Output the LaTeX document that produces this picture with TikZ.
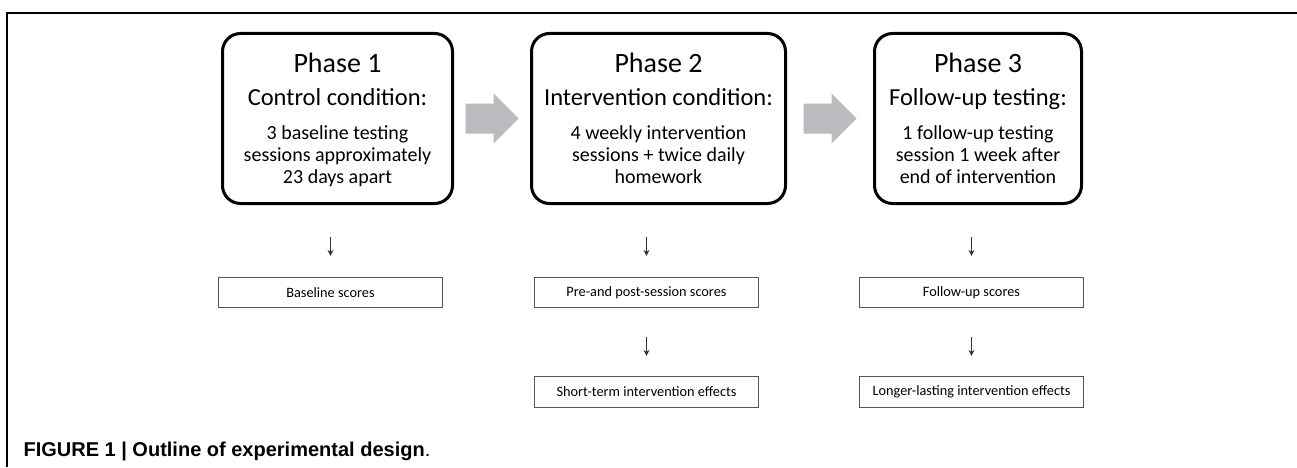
\documentclass[tikz,border=0pt]{standalone}
\usepackage{fontspec}
\setmainfont{Carlito}
\newfontfamily\capfont{Liberation Sans}
\usetikzlibrary{arrows.meta, calc}
\definecolor{arrowgray}{RGB}{187,188,191}
\definecolor{boxgray}{RGB}{85,85,85}
\tikzset{
    phase/.style={draw, line width=3pt, rounded corners=18pt, inner sep=0pt, minimum height=170pt}, % rounded phase boxes
    title/.style={font=\fontsize{28}{30}\selectfont, anchor=base},
    cond/.style={font=\fontsize{24.5}{27}\selectfont, anchor=base},
    body/.style={font=\fontsize{20}{22}\selectfont, align=center, anchor=north, inner sep=0pt},
    score/.style={draw=boxgray, line width=1.2pt, minimum width=224pt, minimum height=30pt, font=\fontsize{14.3}{16}\selectfont}, % result boxes
    down/.style={-{Stealth[length=6pt, width=6pt]}, line width=1pt, draw=black!80}
}
\begin{document}
\begin{tikzpicture}[x=1pt, y=1pt]
    \def\W{1297} \def\H{467}
    \useasboundingbox (0,0) rectangle (\W,\H);
    \draw[line width=2pt] (\W,454) -- (7,454) -- (7,0);

    % phases
    \node[phase, minimum width=230pt] (p1) at (337.5,348.5) {};
    \node[phase, minimum width=254pt] (p2) at (658.5,348.5) {};
    \node[phase, minimum width=207pt] (p3) at (978,348.5) {};

    \node[title] (t1) at ([yshift=-40pt]p1.north) {Phase 1};
    \node[cond] (c1) at ([yshift=-73pt]p1.north) {Control condition:};
    \node[body] (b1) at ([yshift=-93pt]p1.north) {3 baseline testing\\sessions approximately\\23 days apart};

    \node[title] (t2) at ([yshift=-40pt]p2.north) {Phase 2};
    \node[cond] (c2) at ([yshift=-73pt]p2.north) {Intervention condition:};
    \node[body] (b2) at ([yshift=-93pt]p2.north) {4 weekly intervention\\sessions + twice daily\\homework};

    \node[title] (t3) at ([yshift=-40pt]p3.north) {Phase 3};
    \node[cond] (c3) at ([yshift=-73pt]p3.north) {Follow-up testing:};
    \node[body] (b3) at ([yshift=-93pt]p3.north) {1 follow-up testing\\session 1 week after\\end of intervention};

    % block arrows between phases
    \foreach \a/\b in {p1/p2, p2/p3} {
        \coordinate (m\a) at ($(\a.east)!.5!(\b.west)$);
        \fill[arrowgray] ([shift={(-26.5,-15)}]m\a) -- ++(28,0) -- ++(0,-10) -- ++(25,25) -- ++(-25,25) -- ++(0,-10) -- ++(-28,0) -- cycle;
    }

    % scores and effects
    \node[score] (s1) at (330.5,174.5) {Baseline scores};
    \node[score] (s2) at (646.5,174.5) {Pre-and post-session scores};
    \node[score] (s3) at (971.5,174.5) {Follow-up scores};
    \node[score, minimum height=31pt] (e2) at (646.5,75) {Short-term intervention effects};
    \node[score, minimum height=31pt] (e3) at (971.5,75) {Longer-lasting intervention effects};

    \draw[down, shorten <=32pt, shorten >=21pt] (s1.north |- p1.south) -- (s1.north);
    \draw[down, shorten <=32pt, shorten >=21pt] (s2.north |- p2.south) -- (s2.north);
    \draw[down, shorten <=32pt, shorten >=21pt] (s3.north |- p3.south) -- (s3.north);
    \draw[down, shorten <=29pt, shorten >=20pt] (s2.south) -- (e2.north);
    \draw[down, shorten <=29pt, shorten >=20pt] (s3.south) -- (e3.north);

    \node[anchor=base west, font=\capfont\fontsize{20}{22}\selectfont] (cap) at (20,11) {\bfseries FIGURE 1 | Outline of experimental design\mdseries.};
\end{tikzpicture}
\end{document}
